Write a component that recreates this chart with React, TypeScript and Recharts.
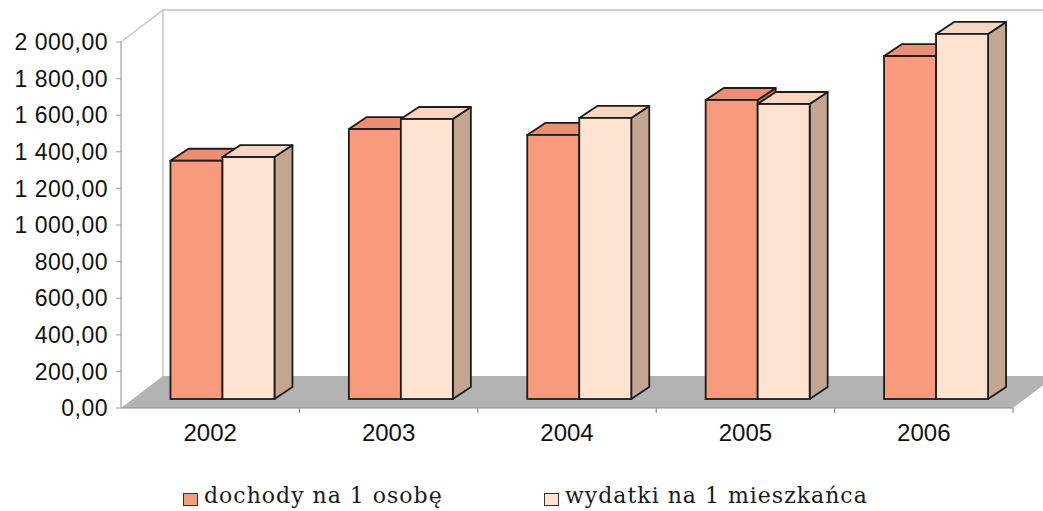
import { BarChart, Bar, XAxis, YAxis, Legend, ReferenceArea } from 'recharts';

const years = ['2002', '2003', '2004', '2005', '2006'];
const dochody = [1302, 1475, 1443, 1634, 1874];
const wydatki = [1322, 1530, 1536, 1612, 1995];
const yTicks = [0, 200, 400, 600, 800, 1000, 1200, 1400, 1600, 1800, 2000];

const data = years.map((year, i) => ({ year, dochody: dochody[i], wydatki: wydatki[i] }));

// depth of the floor and of each bar, in px
const FLOOR_DX = 42;
const FLOOR_DY = 32;
const BAR_SHIFT_X = 12;
const BAR_SHIFT_Y = 9;
const BAR_DX = 18;
const BAR_DY = 12;

const fmt = (v: number) => {
  const [i, d] = v.toFixed(2).split('.');
  return i.replace(/\B(?=(\d{3})+(?!\d))/g, ' ') + ',' + d;
};

const makeBox = (front: string, top: string, side: string) => (props: any) => {
  const { x, y, width, height } = props;
  if (width == null || height == null) return null;
  const fx = x + BAR_SHIFT_X;
  const fy = y - BAR_SHIFT_Y;
  const stroke = '#1c1c1c';
  return (
    <g>
      <polygon
        points={`${fx + width},${fy} ${fx + width + BAR_DX},${fy - BAR_DY} ${fx + width + BAR_DX},${fy + height - BAR_DY} ${fx + width},${fy + height}`}
        fill={side}
        stroke={stroke}
        strokeWidth={1.8}
        strokeLinejoin="round"
      />
      <polygon
        points={`${fx},${fy} ${fx + width},${fy} ${fx + width + BAR_DX},${fy - BAR_DY} ${fx + BAR_DX},${fy - BAR_DY}`}
        fill={top}
        stroke={stroke}
        strokeWidth={1.8}
        strokeLinejoin="round"
      />
      <rect x={fx} y={fy} width={width} height={height} fill={front} stroke={stroke} strokeWidth={1.8} />
    </g>
  );
};

const Walls = (props: any) => {
  const { x, y, width, height } = props;
  const by = y + height;
  const ticks = [1, 2, 3, 4, 5].map((k) => x + (k * width) / years.length);
  return (
    <g>
      <polygon
        points={`${x},${by} ${x + width},${by} ${x + width + FLOOR_DX},${by - FLOOR_DY} ${x + FLOOR_DX},${by - FLOOR_DY}`}
        fill="#b3b3b3"
      />
      <polyline
        points={`${x},${y} ${x + FLOOR_DX},${y - FLOOR_DY} ${x + width + FLOOR_DX},${y - FLOOR_DY}`}
        fill="none"
        stroke="#c4c4c4"
        strokeWidth={1.5}
      />
      <line x1={x + FLOOR_DX} y1={y - FLOOR_DY} x2={x + FLOOR_DX} y2={by - FLOOR_DY} stroke="#c4c4c4" strokeWidth={1.5} />
      {ticks.map((tx, i) => (
        <line key={i} x1={tx} y1={by} x2={tx} y2={by + 5} stroke="#8c8c8c" strokeWidth={1.2} />
      ))}
    </g>
  );
};

const legendX = [183, 544];

const LegendContent = (props: any) => {
  const items = props.payload || [];
  return (
    <div style={{ position: 'relative', height: 30 }}>
      {items.map((it: any, i: number) => (
        <div
          key={it.value}
          style={{ position: 'absolute', left: legendX[i], top: 8, display: 'flex', alignItems: 'flex-start', lineHeight: '24px' }}
        >
          <span
            style={{
              display: 'inline-block',
              width: 13,
              height: 11,
              marginTop: 9,
              marginRight: 6,
              background: it.color,
              border: '1px solid #333',
            }}
          />
          <span
            style={{
              fontFamily: '"DejaVu Serif", "Liberation Serif", serif',
              fontSize: 22,
              letterSpacing: 1,
              color: '#1a1a1a',
            }}
          >
            {it.value}
          </span>
        </div>
      ))}
    </div>
  );
};

export default function App() {
  return (
    <div style={{ width: 1043, height: 511, background: '#fff' }}>
      <style>{'body{margin:0;background:#fff}'}</style>
      <BarChart
        width={1043}
        height={511}
        data={data}
        margin={{ top: 42, right: 30, left: 0, bottom: 5 }}
        barCategoryGap="21%"
        barGap={0}
      >
        <ReferenceArea y1={0} y2={2000} shape={<Walls />} />
        <XAxis
          dataKey="year"
          height={68}
          axisLine={{ stroke: '#8c8c8c', strokeWidth: 1.2 }}
          tickLine={false}
          tickSize={0}
          tickMargin={16}
          tick={{ fontSize: 24, fill: '#111', fontFamily: '"Liberation Sans", Arial, sans-serif' }}
        />
        <YAxis
          width={121}
          domain={[0, 2000]}
          ticks={yTicks}
          tickFormatter={fmt}
          axisLine={{ stroke: '#a0a0a0', strokeWidth: 1.2 }}
          tickLine={{ stroke: '#a0a0a0' }}
          tickSize={5}
          tickMargin={8}
          tick={{ fontSize: 23, letterSpacing: 0.5, fill: '#111', fontFamily: '"Liberation Sans", Arial, sans-serif' }}
        />
        <Legend verticalAlign="bottom" content={LegendContent} wrapperStyle={{ left: 0, width: 1043, height: 30 }} />
        <Bar
          dataKey="dochody"
          name="dochody na 1 osobę"
          fill="#F89A7C"
          shape={makeBox('#F89A7C', '#EC8E76', '#C07460')}
          isAnimationActive={false}
        />
        <Bar
          dataKey="wydatki"
          name="wydatki na 1 mieszkańca"
          fill="#FDE3D0"
          shape={makeBox('#FDE3D0', '#F6D6C1', '#C3A590')}
          isAnimationActive={false}
        />
      </BarChart>
    </div>
  );
}
